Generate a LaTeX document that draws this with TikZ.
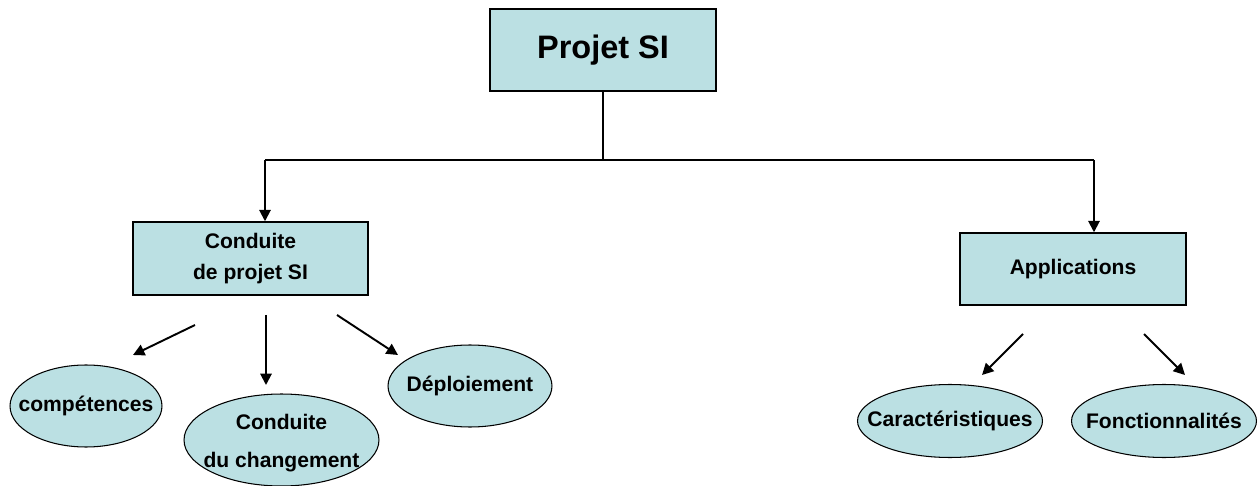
\documentclass[tikz,border=0pt]{standalone}
\usepackage{fontspec}
\setmainfont{Liberation Sans}
\usetikzlibrary{shapes.geometric,arrows.meta}
\definecolor{bleuclair}{RGB}{187,224,227}
\newcommand{\etiq}{\bfseries\fontsize{12}{18}\selectfont}

\begin{document}
\begin{tikzpicture}[x=0.02cm, y=-0.02cm,
    boite/.style={draw, fill=bleuclair, line width=0.85pt, font=\etiq, align=center, inner sep=0pt},
    bulle/.style={ellipse, draw, fill=bleuclair, line width=0.6pt, inner sep=0pt},
    fleche/.style={line width=1.1pt, -{Triangle[length=6.5pt, width=6.5pt]}},
    every label/.style={font=\etiq, align=center}]
            \useasboundingbox (0,0) rectangle (1258,486);
            % boites
            \node[boite, minimum width=4.52cm, minimum height=1.64cm,
                font=\bfseries\fontsize{18.5}{22}\selectfont] (projet) at (603,50) {Projet SI};
            \node[boite, minimum width=4.7cm, minimum height=1.46cm] (conduite) at (250.5,258.5) {Conduite\\de projet SI};
            \node[boite, minimum width=4.52cm, minimum height=1.44cm] (appli) at (1073,269) {Applications};
            % bulles
            \node[bulle, minimum width=3.04cm, minimum height=1.64cm, label=center:compétences] (comp) at (86,406) {};
            \node[bulle, minimum width=3.9cm, minimum height=1.84cm,
                label={[yshift=-2pt, font=\bfseries\fontsize{12}{21.6}\selectfont]center:Conduite\\du changement}] (chgt) at (281.5,440) {};
            \node[bulle, minimum width=3.28cm, minimum height=1.64cm, label=center:Déploiement] (deploi) at (470,386) {};
            \node[bulle, minimum width=3.7cm, minimum height=1.46cm, label=center:Caractéristiques] (carac) at (950,421) {};
            \node[bulle, minimum width=3.7cm, minimum height=1.46cm, label=center:Fonctionnalités] (fonct) at (1164,421) {};
            % embranchement
            \coordinate (fourche) at (603,160);
            \coordinate (gauche) at (265,160);
            \coordinate (droite) at (1094,160);
            \draw[line width=1.1pt] (projet.south) -- (fourche);
            \draw[line width=1.1pt] (gauche) -- (droite);
            \draw[fleche] (gauche) -- (gauche |- conduite.north);
            \draw[fleche] (droite) -- (droite |- appli.north);
            % fleches libres
            \coordinate (a1) at (195,325); \coordinate (b1) at (133,355);
            \coordinate (a2) at (266,315); \coordinate (b2) at (266,385);
            \coordinate (a3) at (337,315); \coordinate (b3) at (398,355);
            \coordinate (a4) at (1023,334); \coordinate (b4) at (982,375);
            \coordinate (a5) at (1144,334); \coordinate (b5) at (1185,375);
            \foreach \i in {1,...,5}{
                \draw[fleche] (a\i) -- (b\i);
            }
        \end{tikzpicture}
\end{document}
